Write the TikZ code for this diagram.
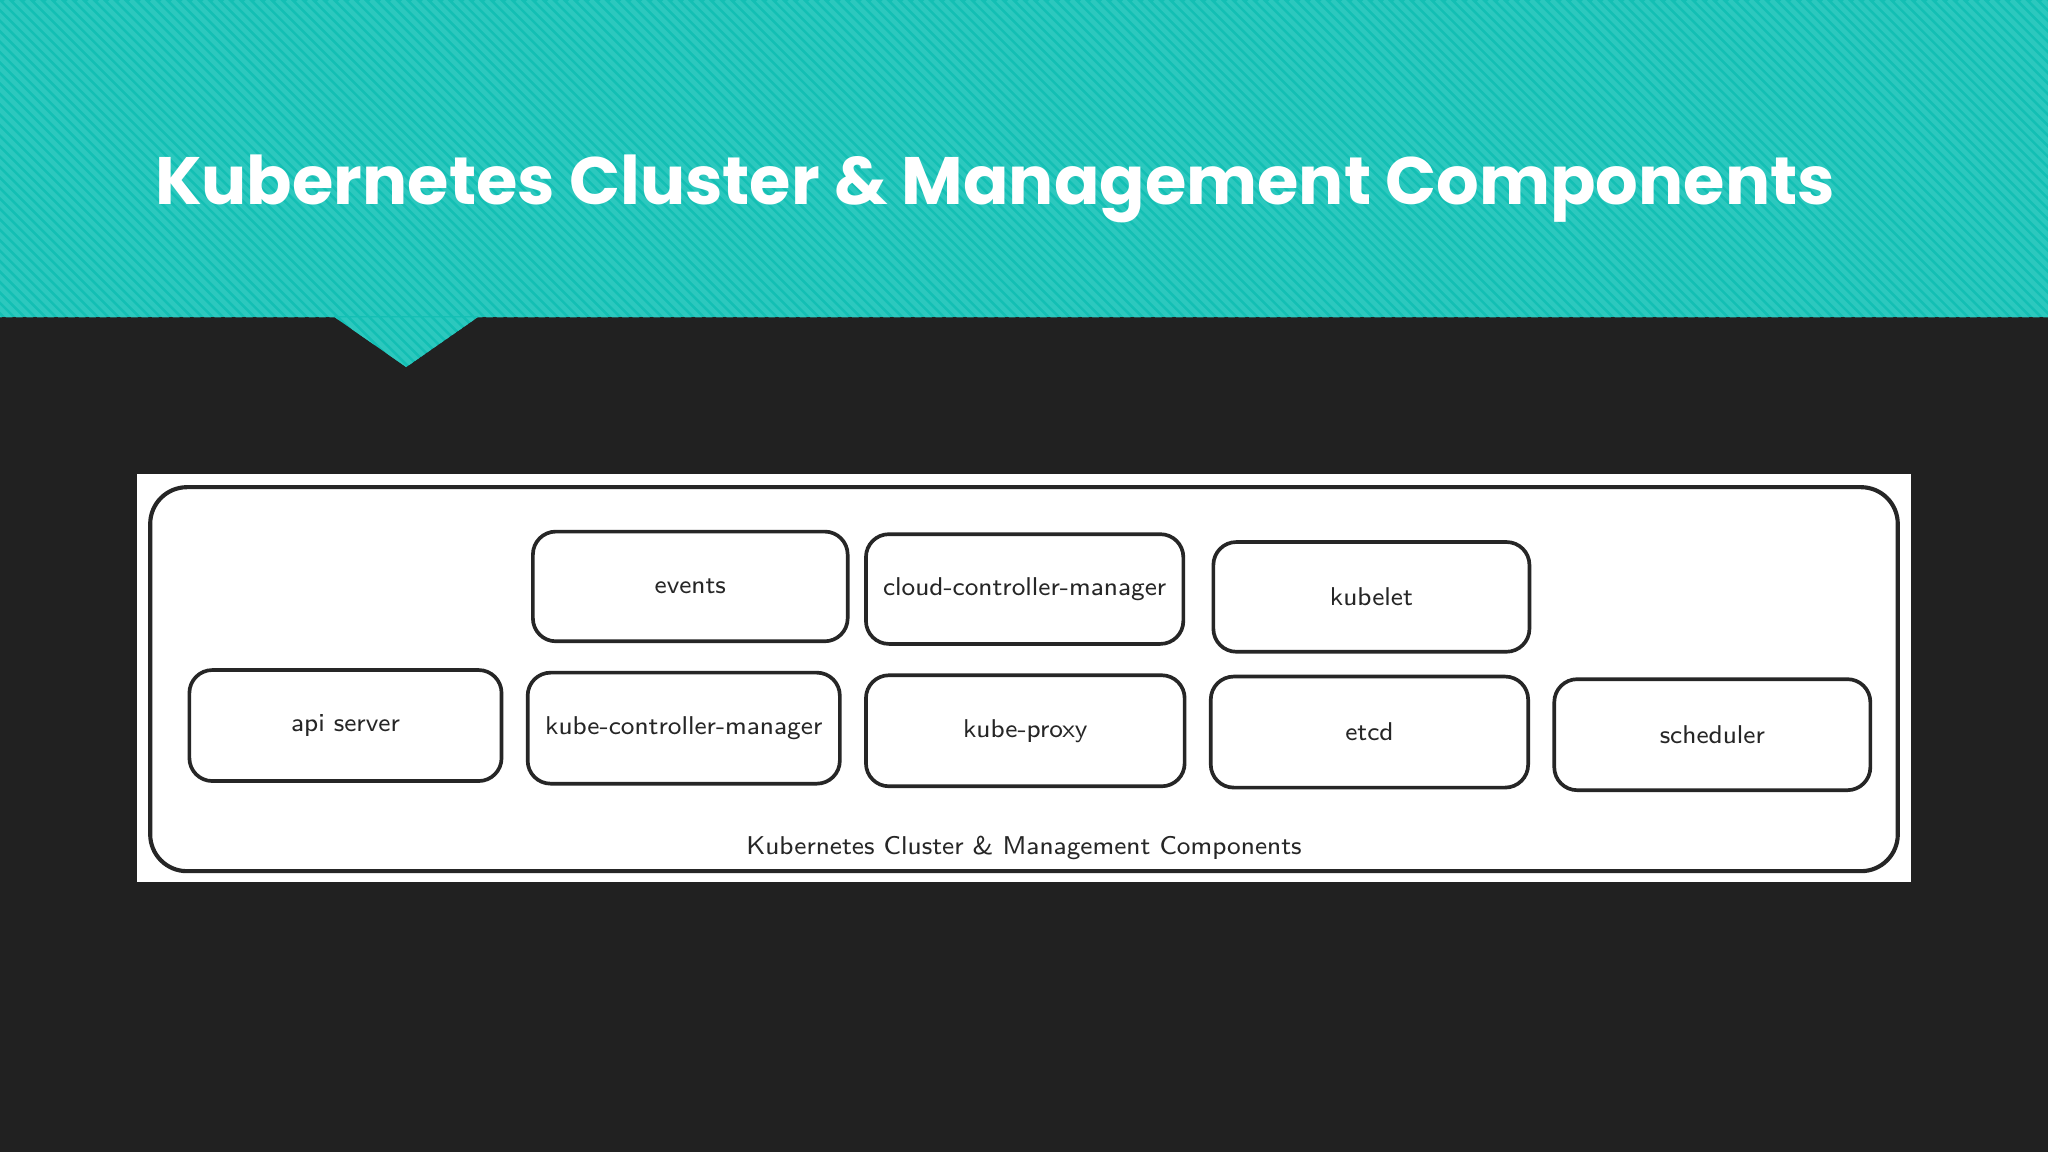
\documentclass[tikz,border=0pt]{standalone}
\usepackage{fontspec}
\setmainfont{Poppins}
\begin{document}
\begin{tikzpicture}[x=0.01cm,y=-0.01cm,
  box/.style={draw=black!85,line width=0.8pt,rounded corners=5pt,fill=white},
  lbl/.style={font=\fontsize{5.6}{7}\selectfont\sffamily,text=black!85}]
\definecolor{teal1}{HTML}{13BFB4}
\definecolor{teal2}{HTML}{2CC8BE}
\definecolor{bg}{HTML}{212121}
\useasboundingbox (0,0) rectangle (1568,882);
\fill[bg] (0,0) rectangle (1568,882);
\fill[teal1] (0,0) rectangle (1568,243);
\fill[teal1] (255,242) -- (367,242) -- (311,281) -- cycle;
\begin{scope}
\clip (0,0) rectangle (1568,243) (255,242) -- (367,242) -- (311,281) -- cycle;
\foreach \i in {-300,-292,...,1568}{
  \draw[teal2,line width=1pt] (\i,0) -- (\i+300,300);
}
\end{scope}
\node[anchor=west,text=white,inner sep=0pt,font=\fontsize{14.6}{17}\selectfont\bfseries] (title) at (118,145) {Kubernetes Cluster \& Management Components};
\fill[white] (105,363) rectangle (1463,675);
\draw[draw=black!85,line width=0.9pt,rounded corners=8pt] (115,373) rectangle (1453,667);
\newcommand{\bx}[6]{\draw[box] (#2,#3) rectangle (#4,#5); \node[lbl] (#1) at ({(#2+#4)/2},{(#3+#5)/2}) {#6};}
\bx{ev}{408}{407}{649}{491}{events}
\bx{ccm}{663}{409}{906}{493}{cloud-controller-manager}
\bx{kl}{929}{415}{1171}{499}{kubelet}
\bx{api}{145}{513}{384}{598}{api server}
\bx{kcm}{404}{515}{643}{600}{kube-controller-manager}
\bx{kp}{663}{517}{907}{602}{kube-proxy}
\bx{etcd}{927}{518}{1170}{603}{etcd}
\bx{sch}{1190}{520}{1432}{605}{scheduler}
\node[lbl] (cl) at (784,649) {Kubernetes Cluster \& Management Components};
\end{tikzpicture}
\end{document}
